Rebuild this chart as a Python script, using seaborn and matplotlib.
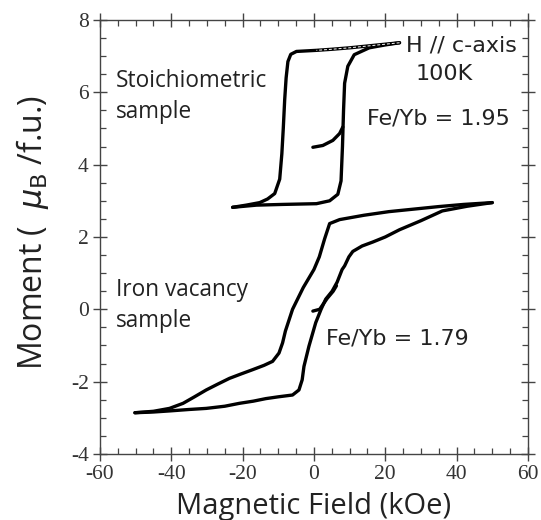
import numpy as np
import pandas as pd
import seaborn as sns
import matplotlib
matplotlib.use("Agg")
import matplotlib.pyplot as plt
from matplotlib.ticker import MultipleLocator

# ---- data ----
# Stoichiometric sample (Fe/Yb = 1.95)
up_desc_x = [24.0, 20.0, 15.0, 10.0, 5.0, 0.7, -4.9, -6.5, -7.3, -7.8, -8.2, -8.6, -9.0, -9.6, -11.0, -13.0, -15.2, -19.0, -22.8]
up_desc_y = [7.37, 7.33, 7.28, 7.23, 7.19, 7.16, 7.13, 7.05, 6.85, 6.40, 5.80, 5.00, 4.30, 3.60, 3.20, 3.05, 2.95, 2.88, 2.82]
up_asc_x = [-22.8, -16.1, -8.7, 0.7, 4.4, 6.7, 7.6, 8.0, 8.3, 8.6, 9.5, 11.3, 15.5, 20.0, 24.0]
up_asc_y = [2.82, 2.88, 2.90, 2.92, 3.00, 3.18, 3.55, 4.50, 5.50, 6.25, 6.72, 7.04, 7.23, 7.31, 7.37]
up_virgin_x = [-0.3, 2.5, 5.3, 7.2, 8.1]
up_virgin_y = [4.48, 4.53, 4.67, 4.86, 5.04]

# Iron vacancy sample (Fe/Yb = 1.79)
lo_desc_x = [50.0, 42.0, 35.0, 28.0, 21.0, 14.0, 7.2, 4.4, 3.0, 1.5, 0.0, -1.5, -3.0, -4.5, -6.0, -7.0, -8.0, -8.8, -9.8, -11.6, -14.0, -17.2, -20.5, -23.7, -27.0, -30.2, -33.5, -36.7, -40.5, -45.0, -50.2]
lo_desc_y = [2.95, 2.90, 2.84, 2.77, 2.70, 2.60, 2.48, 2.37, 1.95, 1.45, 1.10, 0.85, 0.60, 0.30, 0.00, -0.30, -0.60, -0.93, -1.21, -1.44, -1.55, -1.67, -1.79, -1.91, -2.07, -2.23, -2.42, -2.60, -2.74, -2.82, -2.86]
lo_asc_x = [-50.2, -45.0, -40.5, -35.0, -30.2, -25.0, -20.9, -17.0, -13.5, -10.0, -6.0, -4.2, -3.3, -2.8, -1.4, 0.5, 2.0, 3.3, 5.1, 6.5, 7.9, 8.6, 9.8, 10.9, 13.5, 16.5, 20.0, 24.0, 30.0, 36.0, 43.0, 50.0]
lo_asc_y = [-2.86, -2.84, -2.81, -2.77, -2.74, -2.68, -2.60, -2.54, -2.47, -2.42, -2.37, -2.23, -1.95, -1.58, -1.02, -0.37, 0.00, 0.28, 0.50, 0.75, 1.10, 1.20, 1.45, 1.60, 1.75, 1.86, 2.00, 2.20, 2.45, 2.72, 2.85, 2.95]
lo_virgin_x = [-0.3, 1.6, 3.7, 5.4, 6.3]
lo_virgin_y = [-0.05, 0.00, 0.30, 0.50, 0.65]

x_ticks = [-60, -40, -20, 0, 20, 40, 60]
y_ticks = [-4, -2, 0, 2, 4, 6, 8]

branches = {
    "up_desc": (up_desc_x, up_desc_y),
    "up_asc": (up_asc_x, up_asc_y),
    "up_virgin": (up_virgin_x, up_virgin_y),
    "lo_desc": (lo_desc_x, lo_desc_y),
    "lo_asc": (lo_asc_x, lo_asc_y),
    "lo_virgin": (lo_virgin_x, lo_virgin_y),
}
frames = []
for name, (xs, ys) in branches.items():
    frames.append(pd.DataFrame({"H": xs, "M": ys, "branch": name}))
df = pd.concat(frames, ignore_index=True)

sns.set_style("ticks")
plt.rcParams["font.family"] = ["Open Sans", "DejaVu Sans"]
plt.rcParams["axes.unicode_minus"] = False

fig = plt.figure(figsize=(5.41, 5.20), dpi=100)
ax = fig.add_axes([0.1848, 0.127, 0.791, 0.8346])

sns.lineplot(data=df, x="H", y="M", units="branch", estimator=None, sort=False,
             color="black", linewidth=2.4, ax=ax, legend=False)

# thin white core on the saturated top segment (double-line look)
top = df[(df["branch"] == "up_desc") & (df["H"] > -4)]
sns.lineplot(data=top, x="H", y="M", estimator=None, sort=False, color="white",
             linewidth=0.7, ax=ax, legend=False)
ax.lines[-1].set_linestyle((0, (3, 2)))

ax.set_xlim(-60, 60)
ax.set_ylim(-4, 8)
ax.set_xticks(x_ticks)
ax.set_yticks(y_ticks)
ax.xaxis.set_minor_locator(MultipleLocator(5))
ax.yaxis.set_minor_locator(MultipleLocator(0.5))
ax.tick_params(which="major", direction="inout", length=10, width=1.0, color="#444444",
               top=True, right=True, labelsize=15.5, pad=3)
ax.tick_params(which="minor", direction="in", length=4.5, width=0.9, color="#444444",
               top=True, right=True)
for lab in ax.get_xticklabels() + ax.get_yticklabels():
    lab.set_fontfamily("Liberation Serif")
    lab.set_color("#333333")
for s in ax.spines.values():
    s.set_color("#444444")
    s.set_linewidth(1.0)

ax.set_xlabel("Magnetic Field (kOe)", fontsize=21, color="#222222", labelpad=6)
ax.set_ylabel(r"Moment (  $\mu_{\mathrm{B}}$ /f.u.)", fontsize=23, color="#222222")
ax.yaxis.set_label_coords(-0.115, 0.51)

tkw = dict(color="#222222", fontsize=16.3, va="baseline")
ax.text(-55.6, 6.16, "Stoichiometric", ha="left", **tkw)
ax.text(-55.6, 5.28, "sample", ha="left", **tkw)
ax.text(-55.6, 0.36, "Iron vacancy", ha="left", **tkw)
ax.text(-55.6, -0.48, "sample", ha="left", **tkw)

dkw = dict(color="#222222", fontsize=16, va="baseline", family="DejaVu Sans")
ax.text(25.8, 7.12, "H // c-axis", ha="left", **dkw)
ax.text(36.5, 6.35, "100K", ha="center", **dkw)
ax.text(14.9, 5.10, "Fe/Yb = 1.95", ha="left", **dkw)
ax.text(3.3, -0.96, "Fe/Yb = 1.79", ha="left", **dkw)

fig.savefig("out.png", dpi=100, facecolor="white")
